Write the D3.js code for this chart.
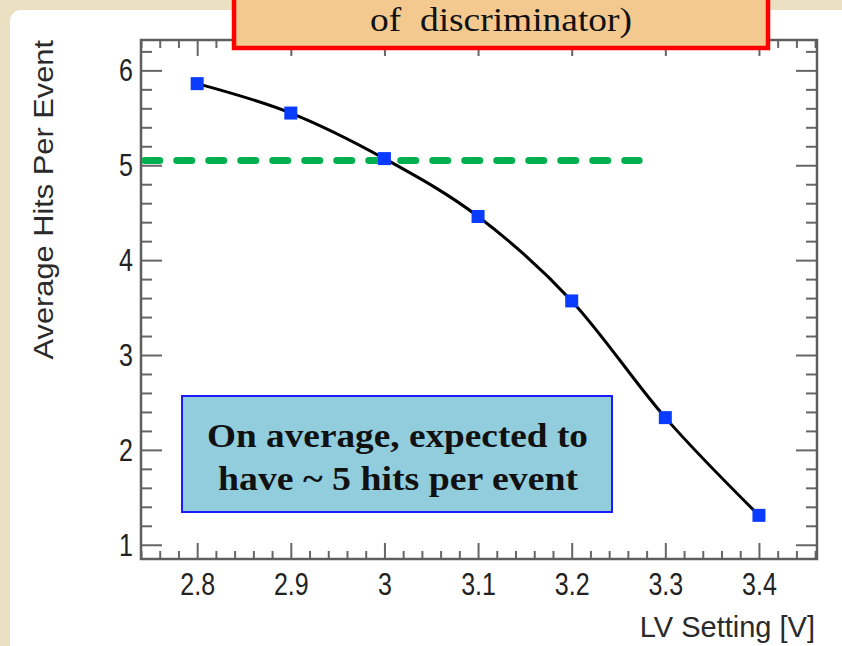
<!DOCTYPE html>
<html>
<head>
<meta charset="utf-8">
<script src="https://cdn.jsdelivr.net/npm/d3@7"></script>
<style>
  html, body { margin: 0; padding: 0; background: #ebe1c2; }
  svg { display: block; }
  .axis text { font-family: "Liberation Sans", Arial, sans-serif; font-size: 25px; fill: #222; }
  .axis path { display: none; }
  .axis line { stroke: #666; stroke-width: 2; }
</style>
</head>
<body>
<svg id="chart"></svg>
<script>
// data
var lvSetting = [2.8, 2.9, 3.0, 3.1, 3.2, 3.3, 3.4];
var avgHits = [5.86, 5.55, 5.07, 4.46, 3.57, 2.34, 1.31];
var refLevel = [5.05, 5.05];
var refRange = [2.744, 3.272];

var xTicks = [2.8, 2.9, 3.0, 3.1, 3.2, 3.3, 3.4];
var yTicks = [1, 2, 3, 4, 5, 6];

var width = 842, height = 646;
var margin = {top: 40, right: 25, bottom: 87, left: 141};
var stretch = 1.28; // source picture is taller than wide

var svg = d3.select("#chart")
    .attr("width", width)
    .attr("height", height);

// parchment + white panel
svg.append("rect")
    .attr("width", width).attr("height", height)
    .attr("fill", "#ebe1c2");
svg.append("rect")
    .attr("x", 10).attr("y", 10)
    .attr("width", width).attr("height", height)
    .attr("rx", 11)
    .attr("fill", "#ffffff");

var x = d3.scaleLinear().domain([2.74, 3.462]).range([margin.left, width - margin.right]);
var y = d3.scaleLinear().domain([0.85, 6.32]).range([height - margin.bottom, margin.top]);

var x0 = x.range()[0], x1 = x.range()[1], y0 = y.range()[0], y1 = y.range()[1];

// minor ticks
var xMinor = d3.range(2.74, 3.4621, 0.02).map(function (d) { return Math.round(d * 100) / 100; })
    .filter(function (d) { return xTicks.indexOf(d) < 0; });
var yMinor = d3.range(1.0, 6.33, 0.2).map(function (d) { return Math.round(d * 10) / 10; })
    .filter(function (d) { return yTicks.indexOf(d) < 0; });

// bottom axis
svg.append("g").attr("class", "x axis")
    .attr("transform", "translate(0," + y0 + ")")
    .call(d3.axisBottom(x).tickValues(xTicks).tickSize(-16)
        .tickFormat(function (d) { return d === 3 ? "3" : d3.format(".1f")(d); }))
    .selectAll("text")
    .attr("y", 10)
    .attr("transform", "scale(1," + stretch + ")");
svg.append("g").attr("class", "x axis")
    .attr("transform", "translate(0," + y0 + ")")
    .call(d3.axisBottom(x).tickValues(xMinor).tickSize(-8).tickFormat(""));
// top axis
svg.append("g").attr("class", "x axis")
    .attr("transform", "translate(0," + y1 + ")")
    .call(d3.axisTop(x).tickValues(xTicks).tickSize(-16).tickFormat(""));
svg.append("g").attr("class", "x axis")
    .attr("transform", "translate(0," + y1 + ")")
    .call(d3.axisTop(x).tickValues(xMinor).tickSize(-8).tickFormat(""));

// left axis
svg.append("g").attr("class", "y axis")
    .attr("transform", "translate(" + x0 + ",0)")
    .call(d3.axisLeft(y).tickValues(yTicks).tickSize(-21).tickPadding(8).tickFormat(d3.format("d")))
    .selectAll("text")
    .attr("transform", "scale(1," + stretch + ")");
svg.append("g").attr("class", "y axis")
    .attr("transform", "translate(" + x0 + ",0)")
    .call(d3.axisLeft(y).tickValues(yMinor).tickSize(-11).tickFormat(""));
// right axis
svg.append("g").attr("class", "y axis")
    .attr("transform", "translate(" + x1 + ",0)")
    .call(d3.axisRight(y).tickValues(yTicks).tickSize(-21).tickFormat(""));
svg.append("g").attr("class", "y axis")
    .attr("transform", "translate(" + x1 + ",0)")
    .call(d3.axisRight(y).tickValues(yMinor).tickSize(-11).tickFormat(""));

// frame
svg.append("rect")
    .attr("x", x0).attr("y", y1)
    .attr("width", x1 - x0).attr("height", y0 - y1)
    .attr("fill", "none")
    .attr("stroke", "#5e5e5e")
    .attr("stroke-width", 2.5);

// axis titles
svg.append("text")
    .attr("transform", "translate(53,40) rotate(-90) scale(1.1,1)")
    .attr("text-anchor", "end")
    .style("font-family", "'Liberation Sans', Arial, sans-serif")
    .style("font-size", "28px")
    .attr("fill", "#2a2a2a")
    .text("Average Hits Per Event");

svg.append("text")
    .attr("x", 815).attr("y", 637)
    .attr("text-anchor", "end")
    .style("font-family", "'Liberation Sans', Arial, sans-serif")
    .style("font-size", "29px")
    .attr("fill", "#2a2a2a")
    .text("LV Setting [V]");

// reference level
svg.append("line")
    .attr("x1", x(refRange[0])).attr("x2", x(refRange[1]))
    .attr("y1", y(refLevel[0])).attr("y2", y(refLevel[1]))
    .attr("stroke", "#00b050")
    .attr("stroke-width", 7)
    .attr("stroke-linecap", "round")
    .attr("stroke-dasharray", "15,17");

// curve
var pts = lvSetting.map(function (d, i) { return [d, avgHits[i]]; });
var line = d3.line()
    .x(function (d) { return x(d[0]); })
    .y(function (d) { return y(d[1]); })
    .curve(d3.curveMonotoneX);

svg.append("path")
    .datum(pts)
    .attr("d", line)
    .attr("fill", "none")
    .attr("stroke", "#000")
    .attr("stroke-width", 3);

var sq = 13;
svg.selectAll(".marker")
    .data(pts)
    .enter().append("rect")
    .attr("class", "marker")
    .attr("x", function (d) { return x(d[0]) - sq / 2; })
    .attr("y", function (d) { return y(d[1]) - sq / 2; })
    .attr("width", sq).attr("height", sq)
    .attr("fill", "#0a3cff");

// annotation: top box (cut off)
svg.append("rect")
    .attr("x", 234).attr("y", -30)
    .attr("width", 534).attr("height", 78)
    .attr("fill", "#f4c98f")
    .attr("stroke", "#ff0000")
    .attr("stroke-width", 4.5);
svg.append("text")
    .attr("x", 501).attr("y", 31)
    .attr("text-anchor", "middle")
    .attr("textLength", 262)
    .attr("lengthAdjust", "spacingAndGlyphs")
    .style("font-family", "'Liberation Serif', serif")
    .style("font-size", "33px")
    .style("white-space", "pre")
    .attr("fill", "#111")
    .text("of  discriminator)");

// annotation: blue box
svg.append("rect")
    .attr("x", 182).attr("y", 396)
    .attr("width", 430).attr("height", 116)
    .attr("fill", "#92cddd")
    .attr("stroke", "#1a1aff")
    .attr("stroke-width", 2);
var note = svg.append("g")
    .style("font-family", "'Liberation Serif', serif")
    .style("font-weight", "bold")
    .style("font-size", "34px")
    .attr("fill", "#111");
note.append("text")
    .attr("x", 207).attr("y", 447)
    .attr("textLength", 381)
    .attr("lengthAdjust", "spacingAndGlyphs")
    .text("On average, expected to");
note.append("text")
    .attr("x", 218).attr("y", 490)
    .attr("textLength", 360)
    .attr("lengthAdjust", "spacingAndGlyphs")
    .text("have ~ 5 hits per event");
</script>
</body>
</html>
